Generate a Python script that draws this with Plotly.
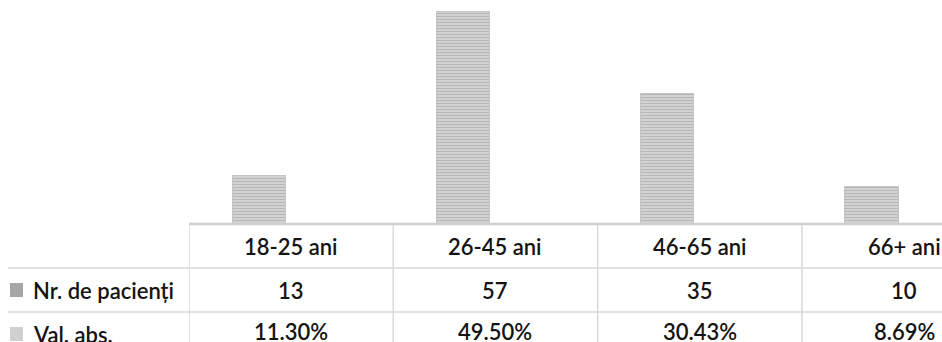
import plotly.graph_objects as go

categories = ["18-25 ani", "26-45 ani", "46-65 ani", "66+ ani"]
patients = [13, 57, 35, 10]
percents = [11.30, 49.50, 30.43, 8.69]
row_labels = ["Nr. de pacienți", "Val. abs."]

W, H = 942, 342
ML, MT, MB = 189, 0, 118
plot_h = H - MT - MB
col_w = 204.3
ncols_visible = (W - ML) / col_w


def py(p):
    # pixel y -> paper y
    return (H - MB - p) / plot_h


def px(p):
    # pixel x -> paper x
    return (p - ML) / (W - ML)


FONT = "Lato"
FS = 22
WEIGHT = 600
txt_color = "#141414"
grid = "#d9d9d9"

fig = go.Figure()
fig.add_trace(go.Bar(
    x=categories,
    y=patients,
    width=0.26,
    offset=-0.287,
    marker=dict(
        color="#cdcdcd",
        line=dict(color="#c4c4c4", width=1),
        pattern=dict(shape="-", fgcolor="#9c9c9c", bgcolor="#d2d2d2", size=3, solidity=0.35),
    ),
    showlegend=False,
    hoverinfo="skip",
))

shapes = []
# axis line
shapes.append(dict(type="line", xref="paper", yref="paper", x0=0, x1=1, y0=py(224), y1=py(224),
                   line=dict(color="#cfcfcf", width=2.5)))
# horizontal table lines
for yy in (268, 312):
    shapes.append(dict(type="line", xref="paper", yref="paper", x0=px(8), x1=1, y0=py(yy), y1=py(yy),
                       line=dict(color=grid, width=1.5)))
# vertical table lines
for k in range(len(categories) + 1):
    xv = k - 0.5
    shapes.append(dict(type="line", xref="x", yref="paper", x0=xv, x1=xv, y0=py(225), y1=py(350),
                       line=dict(color=grid, width=1.5)))
# legend keys
for i, col in enumerate(["#a6a6a6", "#d0d0d0"]):
    yc = 290 + 44 * i
    shapes.append(dict(type="rect", xref="paper", yref="paper", x0=px(10), x1=px(23),
                       y0=py(yc - 7), y1=py(yc + 7), fillcolor=col, line=dict(width=0)))

font = dict(family=FONT, size=FS, color=txt_color, weight=WEIGHT)
annotations = []
for i, c in enumerate(categories):
    annotations.append(dict(x=i, y=py(246), xref="x", yref="paper", text=c, showarrow=False,
                            font=font, xanchor="center", yanchor="middle"))
    annotations.append(dict(x=i, y=py(290), xref="x", yref="paper", text=str(patients[i]), showarrow=False,
                            font=font, xanchor="center", yanchor="middle"))
    annotations.append(dict(x=i, y=py(331), xref="x", yref="paper", text=f"{percents[i]:.2f}%", showarrow=False,
                            font=font, xanchor="center", yanchor="middle"))
for i, lab in enumerate(row_labels):
    annotations.append(dict(x=px(31), y=py(290 + 44 * i), xref="paper", yref="paper", text=lab, showarrow=False,
                            font=font, xanchor="left", yanchor="middle"))

fig.update_layout(
    width=W, height=H,
    margin=dict(l=ML, r=0, t=MT, b=MB, pad=0),
    paper_bgcolor="white", plot_bgcolor="white",
    xaxis=dict(range=[-0.5, -0.5 + ncols_visible], showticklabels=False, showgrid=False,
               zeroline=False, showline=False, ticks="", fixedrange=True),
    yaxis=dict(range=[0, 60.2], showticklabels=False, showgrid=False, zeroline=False,
               showline=False, ticks="", fixedrange=True),
    shapes=shapes,
    annotations=annotations,
    bargap=0,
)

fig.write_html("out.html")
